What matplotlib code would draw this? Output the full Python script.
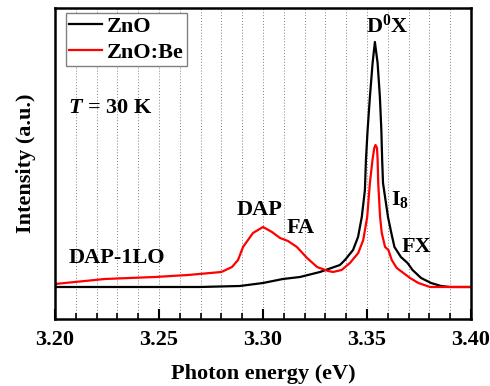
import numpy as np
import matplotlib
matplotlib.use("Agg")
import matplotlib.pyplot as plt
from matplotlib.ticker import MultipleLocator, FormatStrFormatter

plt.rcParams['font.family'] = 'Liberation Serif'
plt.rcParams['font.weight'] = 'bold'
plt.rcParams['mathtext.fontset'] = 'custom'
plt.rcParams['mathtext.rm'] = 'Liberation Serif:bold'
plt.rcParams['mathtext.bf'] = 'Liberation Serif:bold'
plt.rcParams['mathtext.it'] = 'Liberation Serif:italic:bold'

# ZnO spectrum (photon energy in eV, intensity in arbitrary units)
e_zno = [3.2000, 3.2500, 3.2697, 3.2889, 3.3000, 3.3096, 3.3178, 3.3274, 3.3370,
         3.3394, 3.3433, 3.3457, 3.3475, 3.3490, 3.3495, 3.3503, 3.3514, 3.3527,
         3.3538, 3.3551, 3.3562, 3.3569, 3.3573, 3.3577, 3.3601, 3.3617, 3.3632,
         3.3663, 3.3695, 3.3719, 3.3760, 3.3808, 3.3856, 3.3899, 3.4000]
i_zno = [32, 32, 32, 33, 36, 40, 42, 47, 54,
         59, 69, 82, 102, 129, 159, 189, 222, 256,
         277, 256, 222, 189, 159, 136, 102, 86, 72,
         62, 56, 49, 41, 36, 33, 32, 32]

# ZnO:Be spectrum
e_znobe = [3.2000, 3.2240, 3.2480, 3.2640, 3.2800, 3.2851, 3.2880, 3.2904, 3.2952,
           3.3000, 3.3043, 3.3082, 3.3120, 3.3163, 3.3212, 3.3260, 3.3313, 3.3337,
           3.3378, 3.3418, 3.3458, 3.3482, 3.3501, 3.3514, 3.3527, 3.3535, 3.3541,
           3.3548, 3.3551, 3.3554, 3.3563, 3.3571, 3.3587, 3.3603, 3.3619, 3.3643,
           3.3675, 3.3707, 3.3747, 3.3803, 3.4000]
i_znobe = [35, 40, 42, 44, 47, 52, 59, 72, 86,
           92, 87, 81, 78, 72, 61, 52, 48, 47,
           49, 56, 66, 79, 102, 136, 160, 171, 174,
           171, 160, 136, 102, 86, 72, 69, 59, 51,
           46, 41, 36, 32, 32]

labels = ['ZnO', 'ZnO:Be']
colors = ['black', 'red']

fig = plt.figure(figsize=(4.9, 3.86), dpi=100)
ax = fig.add_axes([0.1122, 0.1736, 0.849, 0.8057])

ax.plot(e_zno, i_zno, color=colors[0], lw=1.6, label=labels[0])
ax.plot(e_znobe, i_znobe, color=colors[1], lw=1.6, label=labels[1])

ax.set_xlim(3.20, 3.40)
ax.set_ylim(0, 311)
ax.xaxis.set_major_locator(MultipleLocator(0.05))
ax.xaxis.set_minor_locator(MultipleLocator(0.01))
ax.xaxis.set_major_formatter(FormatStrFormatter('%.2f'))
ax.set_yticks([])
ax.grid(True, which='both', axis='x', color='#808080', ls=(0, (1, 2)), lw=0.7)
ax.tick_params(axis='x', which='major', direction='in', length=7, width=1.5,
               labelsize=16, pad=8)
ax.tick_params(axis='x', which='minor', direction='in', length=4, width=1.2)
for s in ax.spines.values():
    s.set_linewidth(1.8)

ax.set_xlabel('Photon energy (eV)', fontsize=16, fontweight='bold', labelpad=10)
ax.set_ylabel('Intensity (a.u.)', fontsize=16, fontweight='bold', labelpad=14)

leg = ax.legend(loc='upper left', bbox_to_anchor=(0.026, 0.984), fontsize=16,
                frameon=True, fancybox=False, edgecolor='grey', framealpha=1,
                handlelength=1.5, borderaxespad=0, borderpad=0.15,
                labelspacing=0.25, handletextpad=0.2)
leg.get_frame().set_linewidth(1.0)

fs = 16
ax.text(3.2063, 206, '$T$ = 30 K', fontsize=fs)
ax.text(3.3495, 286, 'D$^{0}$X', fontsize=fs)
ax.text(3.3615, 114, 'I$_{8}$', fontsize=fs)
ax.text(3.3668, 67, 'FX', fontsize=fs)
ax.text(3.2875, 104, 'DAP', fontsize=fs)
ax.text(3.3115, 86, 'FA', fontsize=fs)
ax.text(3.2067, 56, 'DAP-1LO', fontsize=fs)

fig.savefig('out.png', dpi=100)
